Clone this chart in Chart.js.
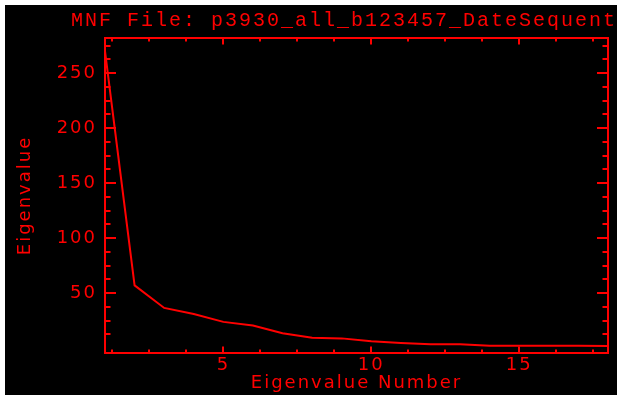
<!DOCTYPE html>
<html>
<head>
<meta charset="utf-8">
<script src="https://cdn.jsdelivr.net/npm/chart.js@4.4.1/dist/chart.umd.min.js"></script>
<style>
  body { margin: 0; background: #fff; }
  #wrap { position: absolute; left: 5px; top: 5px; width: 612px; height: 390px; background: #000; }
</style>
</head>
<body>
<div id="wrap"><canvas id="mnfChart"></canvas></div>
<script>
const titleText = "MNF File: p3930_all_b123457_DateSequent";
const eigenNumbers = [1, 2, 3, 4, 5, 6, 7, 8, 9, 10, 11, 12, 13, 14, 15, 16, 17, 18];
const eigenvalues = [270, 57, 36.5, 31, 23.8, 20.5, 13.5, 9.3, 8.8, 6.2, 4.6, 3.5, 3.4, 2.2, 2.1, 2.0, 2.0, 1.9];
const xLabelTicks = [5, 10, 15];
const yLabelTicks = [50, 100, 150, 200, 250];
const xRange = [1, 18];
const yRange = [-4.5, 282];
const xMinorStep = 1.25;
const yMinorStep = 12.5;

const RED = "rgb(255, 0, 0)";
const labelFont = { family: "DejaVu Sans", size: 18, weight: "normal", lineHeight: 1.2 };

// Hershey-like wide lettering
const spacing = {
  id: "spacing",
  beforeLayout(chart) { chart.ctx.letterSpacing = "2px"; },
  beforeDraw(chart) { chart.ctx.letterSpacing = "2px"; }
};

// inward tick marks on all four sides, placed through the scales
const idlTicks = {
  id: "idlTicks",
  afterDraw(chart) {
    const { ctx, chartArea: a } = chart;
    const x = chart.scales.x;
    const y = chart.scales.y;
    ctx.save();
    ctx.strokeStyle = RED;
    ctx.lineWidth = 2;
    ctx.beginPath();
    for (let k = 1; k * xMinorStep < x.max; k++) {
      const v = k * xMinorStep;
      if (v <= x.min) continue;
      const len = xLabelTicks.includes(v) ? 6.5 : 3.5;
      const px = Math.round(x.getPixelForValue(v));
      ctx.moveTo(px, a.bottom);
      ctx.lineTo(px, a.bottom - len);
      ctx.moveTo(px, a.top);
      ctx.lineTo(px, a.top + len);
    }
    for (let k = 1; k * yMinorStep < y.max; k++) {
      const v = k * yMinorStep;
      const len = yLabelTicks.includes(v) ? 11 : 5.5;
      const py = Math.round(y.getPixelForValue(v));
      ctx.moveTo(a.left, py);
      ctx.lineTo(a.left + len, py);
      ctx.moveTo(a.right, py);
      ctx.lineTo(a.right - len, py);
    }
    ctx.stroke();
    ctx.restore();
  }
};

const points = eigenNumbers.map((n, i) => ({ x: n, y: eigenvalues[i] }));

const plainAxis = {
  ticks: { display: false },
  grid: { display: false, drawTicks: false },
  border: { display: true, color: RED, width: 2 }
};

new Chart(document.getElementById("mnfChart"), {
  type: "line",
  data: {
    datasets: [
      {
        data: points,
        borderColor: RED,
        borderWidth: 2,
        pointRadius: 0,
        tension: 0,
        fill: false
      }
    ]
  },
  options: {
    responsive: true,
    maintainAspectRatio: false,
    animation: false,
    layout: { padding: 0 },
    plugins: {
      legend: { display: false },
      tooltip: { enabled: false },
      title: {
        display: true,
        text: titleText,
        align: "end",
        color: RED,
        font: { family: "Liberation Mono", size: 20, weight: "normal", lineHeight: 1.2 },
        padding: { top: 4, bottom: 5 }
      }
    },
    scales: {
      x: {
        type: "linear",
        position: "bottom",
        min: xRange[0],
        max: xRange[1],
        afterBuildTicks: (s) => { s.ticks = xLabelTicks.map((v) => ({ value: v })); },
        afterFit: (s) => { s.height = 42; },
        grid: { display: false, drawTicks: false },
        border: { display: true, color: RED, width: 2 },
        ticks: { color: RED, font: labelFont, padding: 1.7, maxRotation: 0, autoSkip: false },
        title: { display: true, text: "Eigenvalue Number", color: RED, font: labelFont, padding: { top: 0, bottom: 0.9 } }
      },
      y: {
        type: "linear",
        position: "left",
        min: yRange[0],
        max: yRange[1],
        afterBuildTicks: (s) => { s.ticks = yLabelTicks.map((v) => ({ value: v })); },
        afterFit: (s) => { s.width = 100; },
        grid: { display: false, drawTicks: false },
        border: { display: true, color: RED, width: 2 },
        ticks: { color: RED, font: labelFont, padding: 8, autoSkip: false },
        title: { display: true, text: "Eigenvalue", color: RED, font: labelFont, padding: { top: 9.2, bottom: 0 } }
      },
      xTop: {
        ...plainAxis,
        type: "linear",
        position: "top",
        min: xRange[0],
        max: xRange[1],
        afterFit: (s) => { s.height = 0; }
      },
      yRight: {
        ...plainAxis,
        type: "linear",
        position: "right",
        min: yRange[0],
        max: yRange[1],
        afterFit: (s) => { s.width = 9; }
      }
    }
  },
  plugins: [spacing, idlTicks]
});
</script>
</body>
</html>
